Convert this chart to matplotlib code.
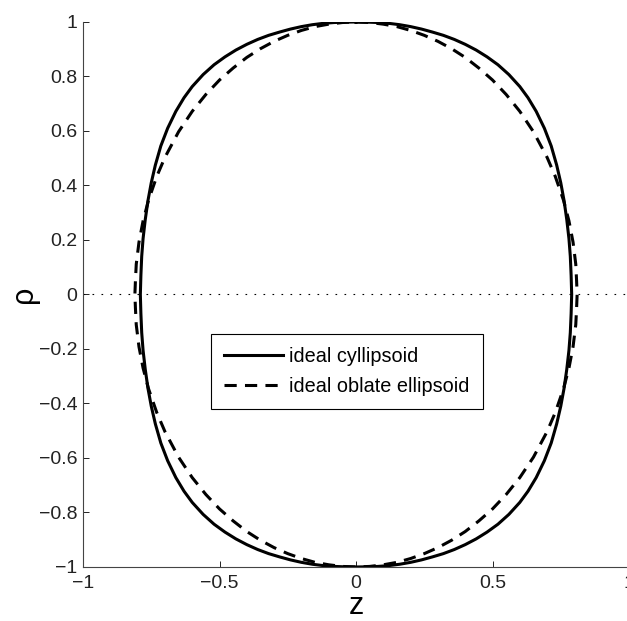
import numpy as np
import matplotlib
matplotlib.use('Agg')
import matplotlib.pyplot as plt

plt.rcParams['font.family'] = ['Liberation Sans', 'DejaVu Sans']

# quarter of each outline (z >= 0, rho >= 0), top -> side
cyl_z = [0.0, 0.04, 0.08, 0.12, 0.16, 0.20, 0.24, 0.28, 0.32, 0.36, 0.40, 0.44, 0.48,
         0.52, 0.56, 0.60, 0.63, 0.66, 0.69, 0.715, 0.735, 0.75, 0.762, 0.772, 0.78,
         0.785, 0.788, 0.79]
cyl_rho = [1.0, 0.9995, 0.998, 0.995, 0.990, 0.983, 0.974, 0.963, 0.951, 0.936, 0.918,
           0.897, 0.872, 0.843, 0.807, 0.763, 0.722, 0.672, 0.610, 0.545, 0.475, 0.41,
           0.345, 0.275, 0.205, 0.14, 0.07, 0.0]

ell_z = [0.0, 0.05, 0.1, 0.15, 0.2, 0.25, 0.3, 0.35, 0.4, 0.45, 0.5, 0.55, 0.6, 0.65,
         0.7, 0.73, 0.76, 0.78, 0.795, 0.805, 0.808, 0.81]
ell_rho = [1.0, 0.998, 0.992, 0.983, 0.969, 0.951, 0.929, 0.902, 0.870, 0.831, 0.787,
           0.734, 0.672, 0.597, 0.503, 0.433, 0.346, 0.270, 0.192, 0.111, 0.05, 0.0]

xticks = [-1, -0.5, 0, 0.5, 1]
xtick_labels = ['\u22121', '\u22120.5', '0', '0.5', '1']
yticks = [-1, -0.8, -0.6, -0.4, -0.2, 0, 0.2, 0.4, 0.6, 0.8, 1]
ytick_labels = ['\u22121', '\u22120.8', '\u22120.6', '\u22120.4', '\u22120.2', '0',
                '0.2', '0.4', '0.6', '0.8', '1']


def closed_outline(z, rho):
    # mirror the quarter into a full closed curve
    z = np.asarray(z)
    rho = np.asarray(rho)
    zz = np.concatenate([z, z[::-1][1:], -z[1:], -z[::-1][1:]])
    rr = np.concatenate([rho, -rho[::-1][1:], -rho[1:], rho[::-1][1:]])
    return zz, rr


fig = plt.figure(figsize=(6.27, 6.21), dpi=100)
ax = fig.add_axes([0.1324, 0.087, 0.8708, 0.8776])

ax.axhline(0, color='black', lw=0.8, dashes=(1.5, 6.6))

z, r = closed_outline(cyl_z, cyl_rho)
ax.plot(z, r, color='black', lw=2.2, label='ideal cyllipsoid', solid_joinstyle='round')
z, r = closed_outline(ell_z, ell_rho)
ax.plot(z, r, color='black', lw=2.2, dashes=(4.0, 2.7), label='ideal oblate ellipsoid')

ax.set_xlim(-1, 1)
ax.set_ylim(-1, 1)
ax.set_xticks(xticks)
ax.set_xticklabels(xtick_labels)
ax.set_yticks(yticks)
ax.set_yticklabels(ytick_labels)
ax.tick_params(direction='in', length=4, width=0.7, labelsize=14, colors='#222222')
ax.tick_params(axis='x', pad=6)
ax.tick_params(axis='y', pad=4)

for side in ['top', 'right']:
    ax.spines[side].set_visible(False)
for side in ['left', 'bottom']:
    ax.spines[side].set_linewidth(0.8)
    ax.spines[side].set_color('#444444')

ax.set_xlabel('z', fontsize=22, labelpad=-1)
ax.set_ylabel('\u03c1', fontsize=22, labelpad=0)

leg = ax.legend(loc='upper left', bbox_to_anchor=(0.234, 0.4275), borderaxespad=0,
                fancybox=False, framealpha=1, edgecolor='black', fontsize=14.3,
                handlelength=3.0, handletextpad=0.3, borderpad=0.65, labelspacing=0.55)
leg.get_frame().set_linewidth(0.8)

fig.savefig('out.png', dpi=100)
